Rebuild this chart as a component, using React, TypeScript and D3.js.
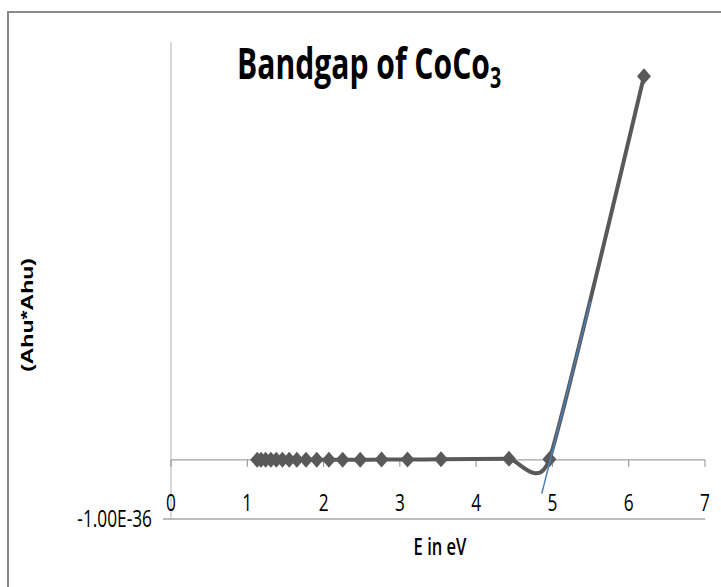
import React from 'react';
import * as d3 from 'd3';

// photon energy (eV) and (Ahu*Ahu)
const energy = [1.13, 1.18, 1.24, 1.31, 1.38, 1.46, 1.55, 1.65, 1.77, 1.91, 2.07, 2.25, 2.48, 2.76, 3.10, 3.54, 4.43, 4.96, 6.20];
const ahu2 = [1e-39, 1e-39, 1e-39, 1e-39, 1e-39, 1e-39, 1e-39, 1e-39, 2e-39, 2e-39, 2e-39, 3e-39, 4e-39, 5e-39, 7e-39, 1e-38, 2e-38, 1e-38, 6.49e-36];

// linear fit drawn in blue
const fitX = [4.86, 5.50];
const fitY = [-0.57e-36, 2.69e-36];

const xTicks = [0, 1, 2, 3, 4, 5, 6, 7];
const yMinLabel = '-1.00E-36';

const SQ = 0.72;

const Squeezed = ({x, y, size, weight, anchor, children, sx = SQ}: any) => (
    <text transform={'translate(' + x + ',' + y + ') scale(' + sx + ',1)'}
          fontFamily="'Open Sans', sans-serif" fontSize={size} fontWeight={weight || 400}
          textAnchor={anchor || 'middle'} fill="#000">{children}</text>
);

const App = () => {
    const width = 721;
    const height = 587;
    const x = d3.scaleLinear().domain([0, 7]).range([171, 705]);
    const y = d3.scaleLinear().domain([-1e-36, 7.07e-36]).range([519, 42]);
    const pts = energy.map((e, i) => [e, ahu2[i]] as [number, number]);
    // excel-like smoothed line
    const line = d3.line<[number, number]>()
        .x(d => x(d[0]))
        .y(d => y(d[1]))
        .curve(d3.curveCardinal.tension(0.5));
    const fit = d3.line<[number, number]>().x(d => x(d[0])).y(d => y(d[1]));
    const fitPts = fitX.map((v, i) => [v, fitY[i]] as [number, number]);
    const y0 = y(0);
    const yMin = y(-1e-36);
    const diamond = 'M0,-8L7,0L0,8L-7,0Z';

    return (
        <svg width={width} height={height} style={{position: 'absolute', left: 0, top: 0}}>
            <rect x="0" y="0" width={width} height={height} fill="#fff"/>
            <rect x="8" y="12" width={width} height={height} fill="none" stroke="#8a8a8a" strokeWidth="2"/>

            <Squeezed x={237} y={79} size={43} weight={700} anchor="start" sx={0.7}>
                Bandgap of CoCo<tspan fontSize="28" dy="9">3</tspan>
            </Squeezed>

            {/* axes */}
            <line x1={x(0)} x2={x(0)} y1={y.range()[1]} y2={yMin} stroke="#b0b0b0" strokeWidth="1"/>
            <line x1={x(0) - 8} x2={x(7)} y1={yMin} y2={yMin} stroke="#a6a6a6" strokeWidth="1.5"/>
            <line x1={x(0)} x2={x(7)} y1={y0} y2={y0} stroke="#8c8c8c" strokeWidth="1"/>
            {xTicks.map(t => (
                <line key={'t' + t} x1={x(t)} x2={x(t)} y1={y0} y2={y0 + 7} stroke="#8c8c8c" strokeWidth="1"/>
            ))}
            {xTicks.map(t => (
                <Squeezed key={'l' + t} x={x(t)} y={511} size={24}>{t}</Squeezed>
            ))}
            <Squeezed x={152} y={527} size={24} anchor="end">{yMinLabel}</Squeezed>
            <Squeezed x={440} y={555} size={23} weight={600}>E in eV</Squeezed>
            <text transform="translate(33,315) rotate(-90)" textAnchor="middle"
                  fontFamily="'Liberation Sans', Arial, sans-serif" fontWeight="700" fontSize="16"
                  textLength="114" lengthAdjust="spacingAndGlyphs">(Ahu*Ahu)</text>

            {/* series */}
            <path d={line(pts) || ''} fill="none" stroke="#595959" strokeWidth="4"/>
            {pts.map((p, i) => (
                <path key={'m' + i} d={diamond} transform={'translate(' + x(p[0]) + ',' + y(p[1]) + ')'} fill="#595959"/>
            ))}
            <path d={fit(fitPts) || ''} fill="none" stroke="#4a7ebb" strokeWidth="1.5"/>
        </svg>
    );
};

export default App;
